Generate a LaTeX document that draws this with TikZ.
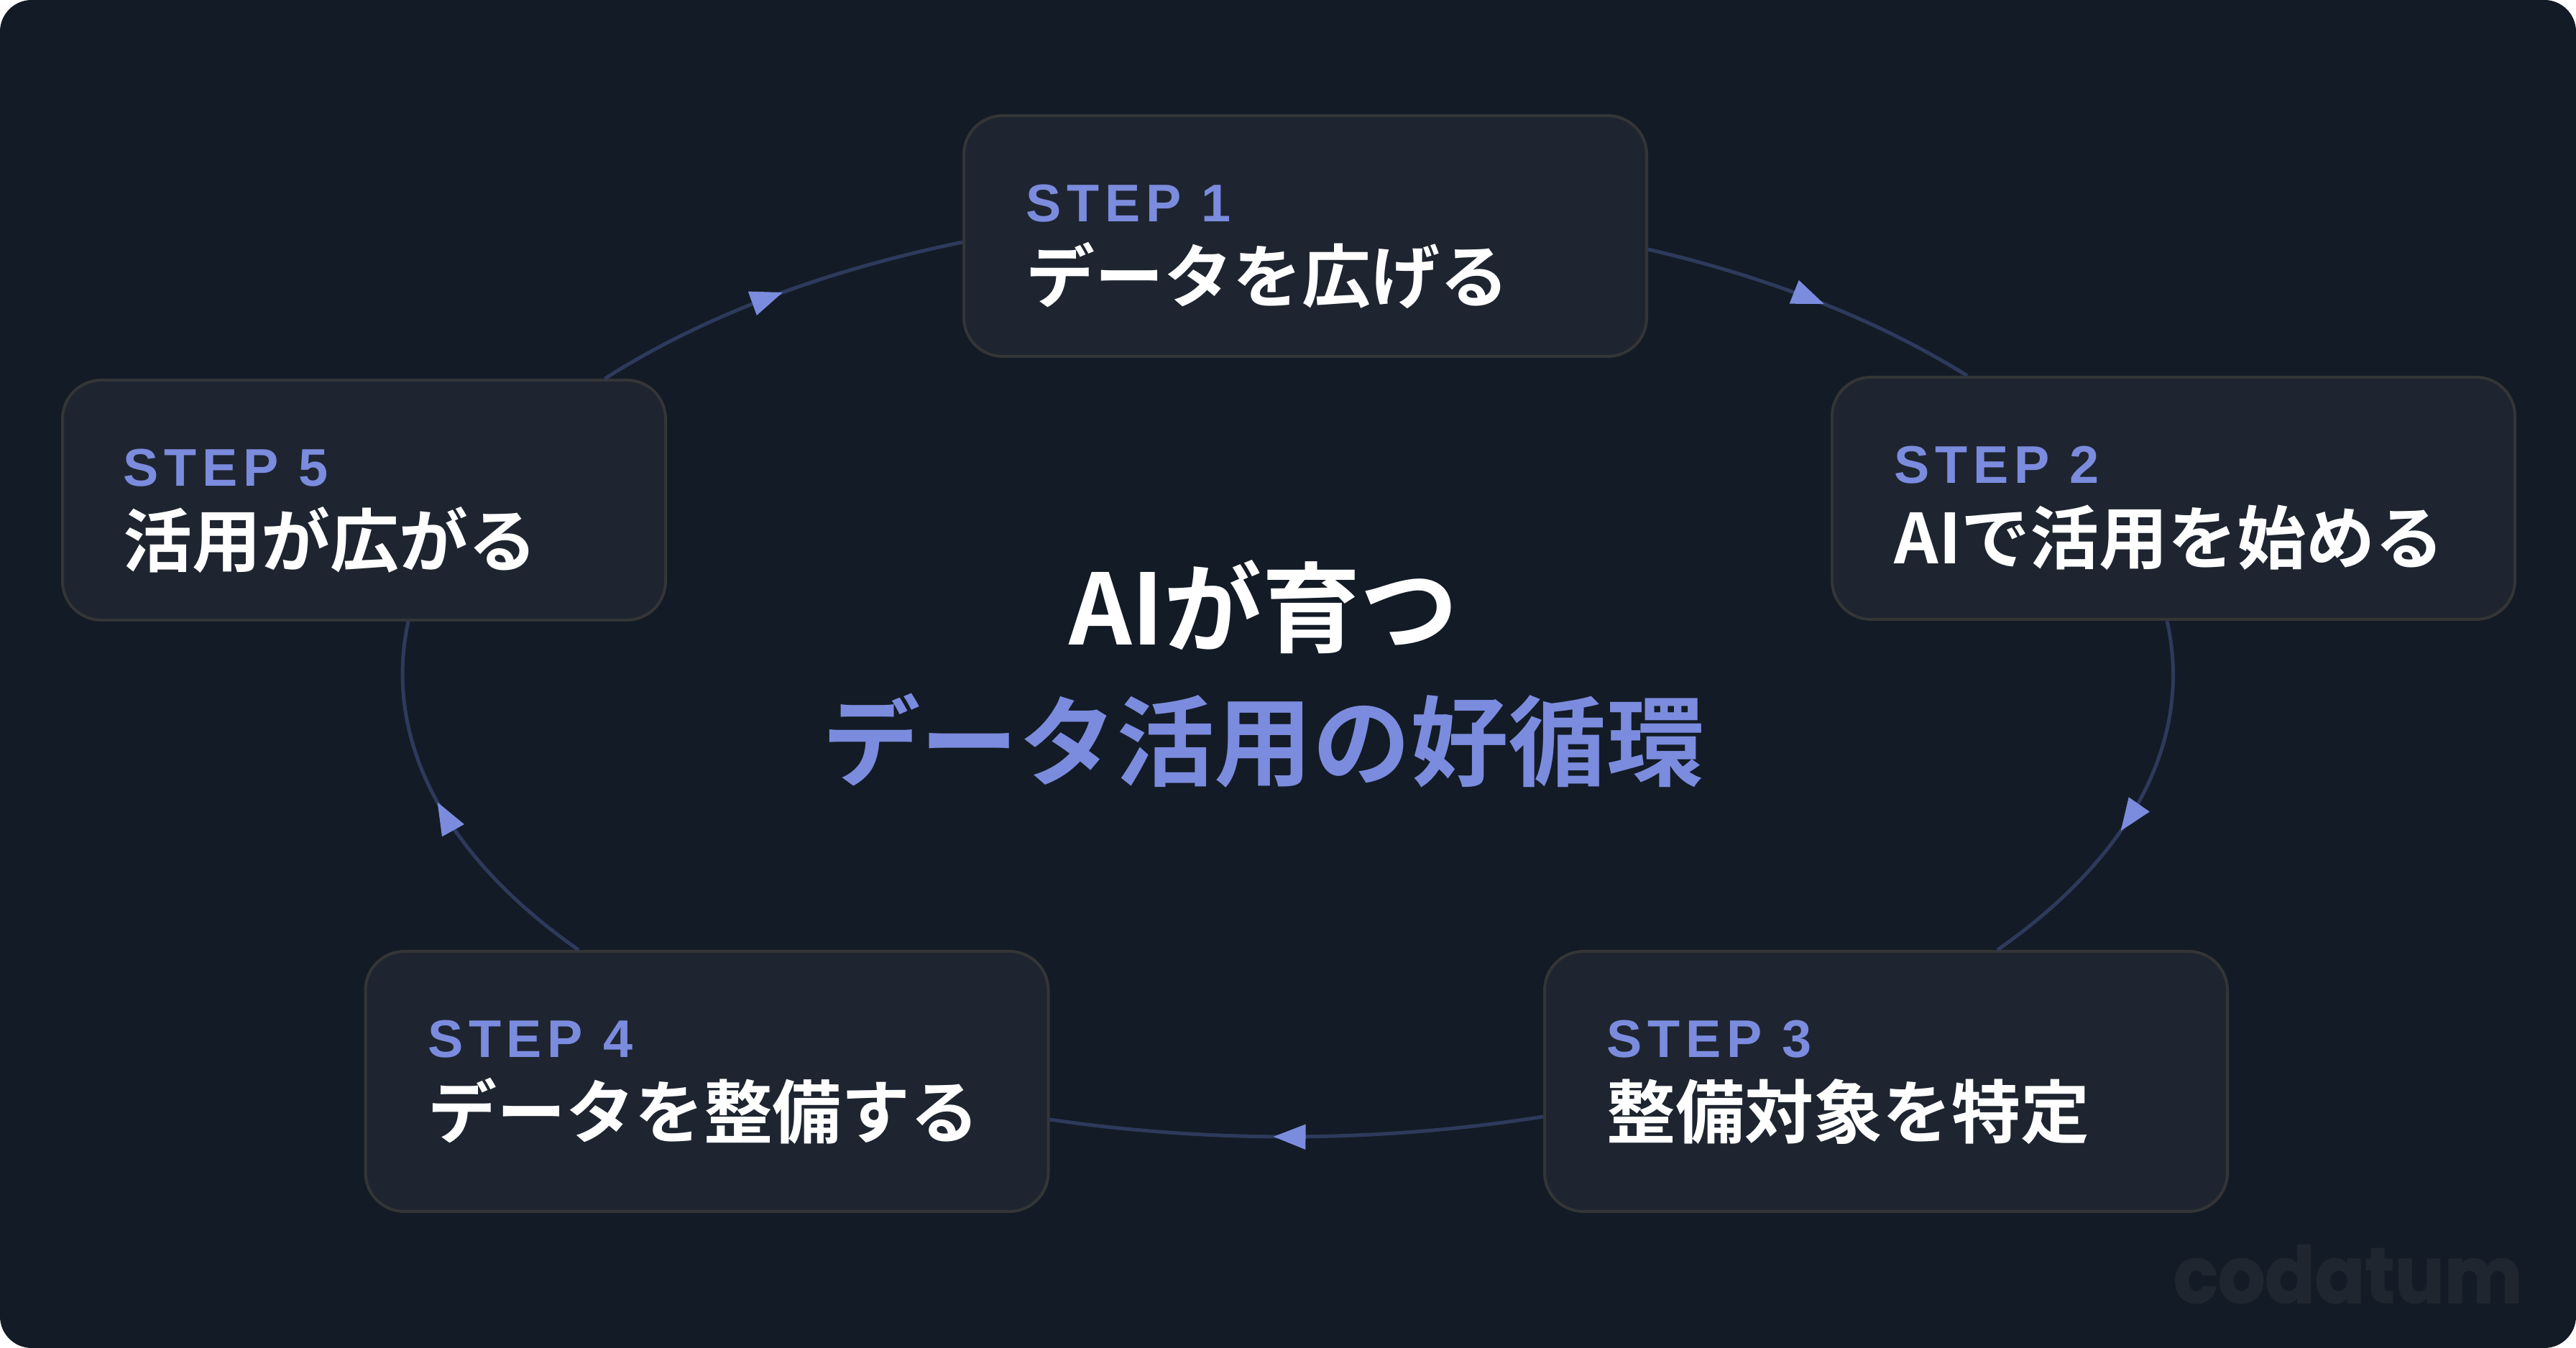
\documentclass[tikz,border=0pt]{standalone}
\usepackage{fontspec}
\usetikzlibrary{arrows.meta, calc, decorations.markings}
\newfontfamily\jpfont{Noto Sans CJK JP}[BoldFont={Noto Sans CJK JP Bold}]
\newfontfamily\stepfont{Liberation Sans}[LetterSpace=10.5]
\newfontfamily\markfont{Poppins}[BoldFeatures={FakeBold=1.5}]
\definecolor{pagebg}{HTML}{131B26}
\definecolor{boxbg}{HTML}{1E2530}
\definecolor{boxline}{HTML}{343537}
\definecolor{flowline}{HTML}{2E3A5C}
\definecolor{accent}{HTML}{7B8CDE}
\definecolor{markgray}{HTML}{20262F}

\tikzset{
  stepbox/.style={draw=boxline, fill=boxbg, line width=0.04cm, rounded corners=0.54cm,
    minimum width=9.5cm, minimum height=#1, inner sep=0pt},
  steptag/.style={text=accent, font=\stepfont\bfseries\fontsize{21}{21}\selectfont,
    anchor=base west, inner sep=0pt},
  steptext/.style={text=white, font=\jpfont\bfseries\fontsize{27.3}{27.3}\selectfont,
    anchor=base west, inner sep=0pt},
  titletext/.style={font=\jpfont\bfseries\fontsize{38.8}{38.8}\selectfont,
    anchor=base, inner sep=0pt},
  flow/.style={draw=flowline, line width=0.05cm, postaction={decorate},
    decoration={markings, mark=at position #1 with
      {\arrow[accent]{Triangle[length=0.45cm, width=0.34cm]}}}}
}

\begin{document}
\begin{tikzpicture}

% Background
\useasboundingbox (0,0) rectangle (35.84,18.76);
\fill[white] (0,0) rectangle (35.84,18.76);
\fill[pagebg, rounded corners=0.44cm] (0,0) rectangle (35.84,18.76);

% --- Title ---
\node[titletext, text=white] (title) at (17.58,9.78) {AIが育つ};
\node[titletext, text=accent] (subtitle) at (17.58,7.92) {データ活用の好循環};

% --- Step boxes ---
\node[stepbox=3.35cm] (step1) at (18.16,15.475) {};
\node[stepbox=3.37cm] (step2) at (30.24,11.825) {};
\node[stepbox=3.62cm] (step3) at (26.24,3.71) {};
\node[stepbox=3.62cm] (step4) at (9.835,3.71) {};
\node[stepbox=3.34cm, minimum width=8.39cm] (step5) at (5.065,11.80) {};

% Labels in the boxes
\node[steptag] (tag1) at ([shift={(0.88,-1.50)}]step1.north west) {STEP 1};
\node[steptext] (text1) at ([shift={(0.88,-2.62)}]step1.north west) {データを広げる};
\node[steptag] (tag2) at ([shift={(0.88,-1.50)}]step2.north west) {STEP 2};
\node[steptext] (text2) at ([shift={(0.88,-2.62)}]step2.north west) {AIで活用を始める};
\node[steptag] (tag3) at ([shift={(0.88,-1.50)}]step3.north west) {STEP 3};
\node[steptext] (text3) at ([shift={(0.88,-2.62)}]step3.north west) {整備対象を特定};
\node[steptag] (tag4) at ([shift={(0.88,-1.50)}]step4.north west) {STEP 4};
\node[steptext] (text4) at ([shift={(0.88,-2.62)}]step4.north west) {データを整備する};
\node[steptag] (tag5) at ([shift={(0.86,-1.50)}]step5.north west) {STEP 5};
\node[steptext] (text5) at ([shift={(0.86,-2.62)}]step5.north west) {活用が広がる};

% --- Cycle connectors ---
\draw[flow=0.535] ([yshift=-0.185cm]step1.east) .. controls +(1.724,-0.400) and +(-1.210,0.758) .. ([xshift=-2.87cm]step2.north);
\draw[flow=0.563] ([xshift=-0.09cm]step2.south) .. controls +(0.368,-1.641) and +(1.891,1.323) .. ([xshift=1.55cm]step3.north);
\draw[flow=0.547] ([yshift=-0.49cm]step3.west) .. controls +(-2.251,-0.358) and +(2.264,-0.333) .. ([yshift=-0.53cm]step4.east);
\draw[flow=0.524] ([xshift=-1.785cm]step4.north) .. controls +(-1.881,1.316) and +(-0.355,-1.634) .. ([xshift=0.615cm]step5.south);
\draw[flow=0.515] ([xshift=3.35cm]step5.north) .. controls +(1.333,0.852) and +(-1.958,-0.404) .. ([yshift=-0.085cm]step1.west);

% Watermark
\node[text=markgray, font=\markfont\bfseries\fontsize{31}{31}\selectfont, anchor=base east,
  inner sep=0pt, xscale=0.94] (mark) at (35.10,0.63) {codatum};

\end{tikzpicture}
\end{document}
